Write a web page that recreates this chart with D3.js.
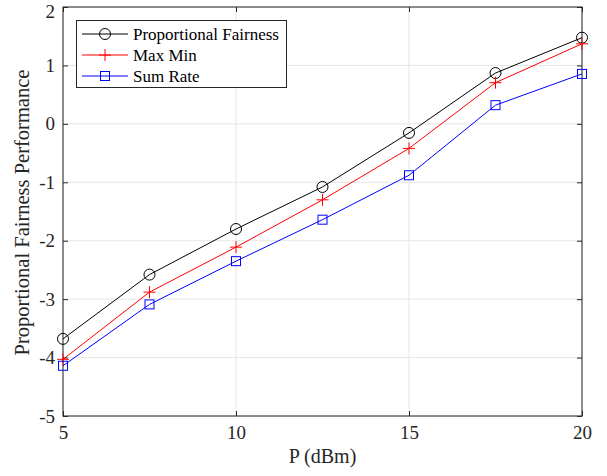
<!DOCTYPE html>
<html><head><meta charset="utf-8">
<script src="https://cdn.jsdelivr.net/npm/d3@7"></script>
<style>body{margin:0;background:#fff}text{font-family:"Liberation Serif","Times New Roman",serif;}</style>
</head><body>
<script>
const xValues = [5, 7.5, 10, 12.5, 15, 17.5, 20];
const pfValues = [-3.68, -2.58, -1.80, -1.08, -0.155, 0.87, 1.475];
const mmValues = [-4.03, -2.88, -2.11, -1.30, -0.42, 0.705, 1.37];
const srValues = [-4.14, -3.09, -2.35, -1.64, -0.88, 0.32, 0.855];
const xTicks = [5, 10, 15, 20];
const yTicks = [-5, -4, -3, -2, -1, 0, 1, 2];
const seriesNames = ["Proportional Fairness", "Max Min", "Sum Rate"];

const W = 607, H = 476;
const L = 63, R = 582, T = 7, B = 416;
const svg = d3.select("body").append("svg").attr("width", W).attr("height", H);
const x = d3.scaleLinear().domain([5, 20]).range([L, R]);
const y = d3.scaleLinear().domain([-5, 2]).range([B, T]);

// grid
const g = svg.append("g");
g.selectAll(".gx").data(xTicks).enter().append("line")
  .attr("x1", d => x(d)).attr("x2", d => x(d)).attr("y1", T).attr("y2", B)
  .attr("stroke", "#e6e6e6").attr("stroke-width", 1);
g.selectAll(".gy").data(yTicks).enter().append("line")
  .attr("y1", d => y(d)).attr("y2", d => y(d)).attr("x1", L).attr("x2", R)
  .attr("stroke", "#e6e6e6").attr("stroke-width", 1);

// axes
const tl = 5;
const ax = svg.append("g").attr("transform", `translate(0,${B})`)
  .call(d3.axisBottom(x).tickValues(xTicks).tickSizeInner(-tl).tickSizeOuter(0).tickPadding(10).tickFormat(d3.format("d")));
const ay = svg.append("g").attr("transform", `translate(${L},0)`)
  .call(d3.axisLeft(y).tickValues(yTicks).tickSizeInner(-tl).tickSizeOuter(0).tickPadding(8).tickFormat(d => d < 0 ? "-" + Math.abs(d) : d));
const axTop = svg.append("g").attr("transform", `translate(0,${T})`)
  .call(d3.axisTop(x).tickValues(xTicks).tickSizeInner(-tl).tickSizeOuter(0).tickFormat(""));
const ayR = svg.append("g").attr("transform", `translate(${R},0)`)
  .call(d3.axisRight(y).tickValues(yTicks).tickSizeInner(-tl).tickSizeOuter(0).tickFormat(""));
[ax, ay, axTop, ayR].forEach(a => {
  a.selectAll("path").remove();
  a.selectAll("line").attr("stroke", "#262626");
  a.selectAll("text").attr("fill", "#262626").style("font-size", "19px").style("font-family", "Liberation Serif");
});
// keep the top tick label fully inside the page
ay.selectAll(".tick text").filter(d => d === 2).attr("dy", "10.5px");
svg.append("rect").attr("x", L).attr("y", T).attr("width", R - L).attr("height", B - T)
  .attr("fill", "none").attr("stroke", "#262626").attr("stroke-width", 1);

// labels
svg.append("text").attr("x", (L + R) / 2).attr("y", 463).attr("text-anchor", "middle")
  .style("font-size", "20px").attr("fill", "#262626").text("P (dBm)");
svg.append("text").attr("transform", `translate(29,${(T + B) / 2 + 1}) rotate(-90)`).attr("text-anchor", "middle")
  .style("font-size", "20.5px").attr("fill", "#262626").text("Proportional Fairness Performance");

const series = [
  {name: seriesNames[0], vals: pfValues, color: "#000000", marker: "circle"},
  {name: seriesNames[1], vals: mmValues, color: "#ff0000", marker: "plus"},
  {name: seriesNames[2], vals: srValues, color: "#0000ff", marker: "square"}
];
const line = d3.line().x((d, i) => x(xValues[i])).y(d => y(d));

function drawMarker(sel, type, color, cx, cy) {
  if (type === "circle") sel.append("circle").attr("cx", cx).attr("cy", cy).attr("r", 5.5).attr("fill", "none").attr("stroke", color).attr("stroke-width", 1);
  else if (type === "plus") {
    sel.append("line").attr("x1", cx - 6).attr("x2", cx + 6).attr("y1", cy).attr("y2", cy).attr("stroke", color).attr("stroke-width", 1);
    sel.append("line").attr("x1", cx).attr("x2", cx).attr("y1", cy - 6).attr("y2", cy + 6).attr("stroke", color).attr("stroke-width", 1);
  } else sel.append("rect").attr("x", cx - 4.5).attr("y", cy - 4.5).attr("width", 9).attr("height", 9).attr("fill", "none").attr("stroke", color).attr("stroke-width", 1);
}

series.forEach(s => {
  svg.append("path").datum(s.vals).attr("d", line).attr("fill", "none").attr("stroke", s.color).attr("stroke-width", 1);
  const mg = svg.append("g");
  s.vals.forEach((v, i) => drawMarker(mg, s.marker, s.color, x(xValues[i]), y(v)));
});

// legend
const lg = svg.append("g");
lg.append("rect").attr("x", 76.5).attr("y", 20.5).attr("width", 210).attr("height", 67)
  .attr("fill", "#fff").attr("stroke", "#262626").attr("stroke-width", 1);
series.forEach((s, i) => {
  const yy = 34 + i * 21;
  lg.append("line").attr("x1", 82).attr("x2", 128).attr("y1", yy).attr("y2", yy).attr("stroke", s.color).attr("stroke-width", 1);
  drawMarker(lg, s.marker, s.color, 105, yy);
  lg.append("text").attr("x", 133).attr("y", yy + 5.5).style("font-size", "17px").attr("fill", "#000").text(s.name);
});
</script>
</body></html>
